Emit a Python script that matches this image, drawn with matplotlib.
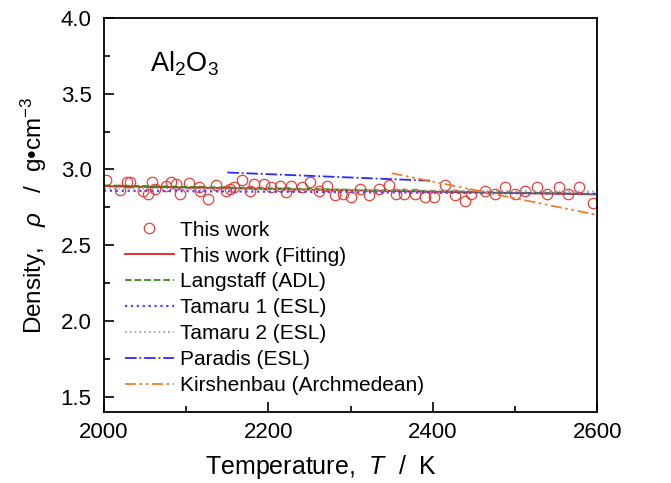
import numpy as np
import matplotlib
matplotlib.use("Agg")
import matplotlib.pyplot as plt
from matplotlib.ticker import FormatStrFormatter

plt.rcParams['font.family'] = ['Liberation Sans', 'DejaVu Sans']
plt.rcParams['mathtext.fontset'] = 'custom'
plt.rcParams['mathtext.rm'] = 'Liberation Sans'
plt.rcParams['mathtext.it'] = 'Liberation Sans:italic'

# measured points (This work)
T_exp = [2002, 2019, 2028, 2032, 2047, 2054, 2058, 2062, 2076, 2082, 2088, 2092,
         2104, 2115, 2117, 2127, 2136, 2148, 2153, 2158, 2168, 2178, 2183, 2195,
         2203, 2214, 2221, 2228, 2241, 2251, 2261, 2271, 2281, 2291, 2301, 2312,
         2322, 2335, 2347, 2355, 2365, 2378, 2391, 2402, 2415, 2427, 2439, 2447,
         2464, 2476, 2488, 2500, 2512, 2527, 2539, 2553, 2565, 2578, 2595]
rho_exp = [2.93, 2.865, 2.915, 2.915, 2.86, 2.84, 2.915, 2.87, 2.89, 2.92, 2.905, 2.84,
           2.91, 2.885, 2.86, 2.805, 2.90, 2.855, 2.87, 2.885, 2.93, 2.855, 2.905, 2.905,
           2.885, 2.89, 2.85, 2.89, 2.885, 2.915, 2.86, 2.89, 2.83, 2.84, 2.82, 2.87,
           2.83, 2.87, 2.90, 2.835, 2.835, 2.835, 2.82, 2.82, 2.90, 2.83, 2.795, 2.835,
           2.86, 2.835, 2.885, 2.84, 2.86, 2.885, 2.84, 2.885, 2.84, 2.885, 2.78]

# literature / fit lines (end points)
T_fit = [2000, 2600]
rho_fit = [2.89, 2.835]
T_lang = [2000, 2600]
rho_lang = [2.895, 2.838]
T_tam1 = [2000, 2600]
rho_tam1 = [2.86, 2.84]
T_tam2 = [2000, 2600]
rho_tam2 = [2.875, 2.855]
T_par = [2150, 2400]
rho_par = [2.98, 2.925]
T_kir = [2350, 2600]
rho_kir = [2.975, 2.70]

fig = plt.figure(figsize=(6.71, 4.83), dpi=100)
ax = fig.add_axes([0.155, 0.147, 0.735, 0.816])

ax.plot(T_exp, rho_exp, 'o', mfc='none', mec='#e8413c', ms=7.5, mew=0.9, label='This work')
ax.plot(T_fit, rho_fit, '-', color='#e02020', lw=1.3, label='This work (Fitting)')
ax.plot(T_lang, rho_lang, '--', color='#3a8a1e', lw=1.3, label='Langstaff (ADL)')
ax.plot(T_tam1, rho_tam1, ':', color='#5a3cff', lw=1.6, label='Tamaru 1 (ESL)')
ax.plot(T_tam2, rho_tam2, ':', color='#a8a8a8', lw=1.3, label='Tamaru 2 (ESL)')
ax.plot(T_par, rho_par, '-.', color='#2a2aff', lw=1.3, label='Paradis (ESL)')
ax.plot(T_kir, rho_kir, color='#f07f2a', lw=1.3, dashes=[6, 2, 1.5, 2, 1.5, 2],
        label='Kirshenbau (Archmedean)')

ax.set_xlim(2000, 2600)
ax.set_ylim(1.4, 4.0)
ax.set_xticks([2000, 2200, 2400, 2600])
ax.set_xticks([2100, 2300, 2500], minor=True)
ax.set_yticks([1.5, 2.0, 2.5, 3.0, 3.5, 4.0])
ax.set_yticks([1.75, 2.25, 2.75, 3.25, 3.75], minor=True)
ax.yaxis.set_major_formatter(FormatStrFormatter('%.1f'))
ax.tick_params(which='both', direction='in', labelsize=16, width=1.2)
ax.tick_params(which='major', length=7)
ax.tick_params(axis='x', which='major', pad=7)
ax.tick_params(axis='y', which='major', pad=9)
ax.tick_params(which='minor', length=4)
for s in ax.spines.values():
    s.set_linewidth(1.3)

ax.set_xlabel('Temperature,  $\\mathit{T}$  /  K', fontsize=18)
ax.xaxis.set_label_coords(0.44, -0.105)
ax.set_ylabel('Density,   $\\mathit{\\rho}$   /  g\u2022cm$^{-3}$', fontsize=17.5, labelpad=8)

ax.text(0.093, 0.863, 'Al$_2$O$_3$', transform=ax.transAxes, fontsize=19.5, va='baseline')

ax.legend(loc='lower left', frameon=False, fontsize=15, handlelength=2.35,
          handletextpad=0.3, labelspacing=0.33, borderaxespad=0.0,
          bbox_to_anchor=(0.025, 0.022))

fig.savefig('out.png', dpi=100)
